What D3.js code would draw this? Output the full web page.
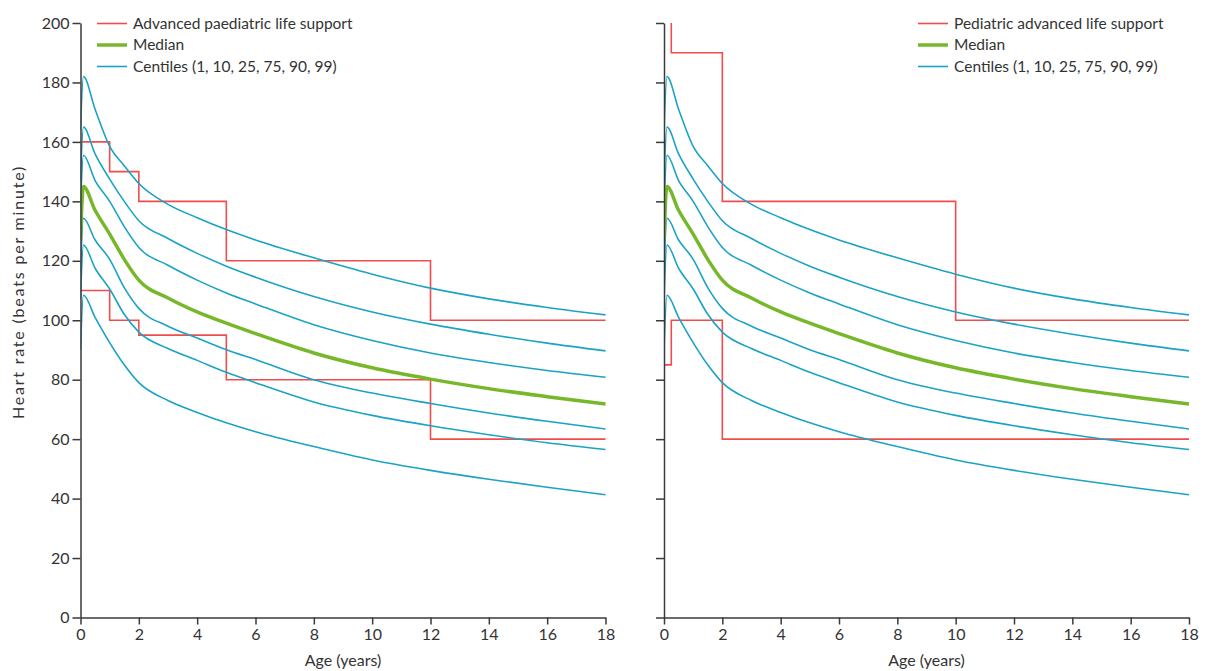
<!DOCTYPE html>
<html>
<head>
<meta charset="utf-8">
<script src="https://cdn.jsdelivr.net/npm/d3@7"></script>
<style>
  body { margin: 0; background: #fff; }
  svg text { font-family: Lato, "Open Sans", sans-serif; fill: #333; }
  .axis path, .axis line { stroke: #3a3a3a; stroke-width: 1.5; }
  .axis text { font-size: 16px; }
</style>
</head>
<body>
<div id="chart"></div>
<script>
// data
const ages = [0, 0.1, 0.5, 1, 1.5, 2, 3, 4, 5, 6, 8, 10, 12, 14, 16, 18];
const c99 = [164, 182, 171, 158.5, 152, 146, 139, 134.5, 130.5, 127, 121, 115.5, 110.8, 107.2, 104.3, 101.8];
const c90 = [147, 165, 156, 147.5, 140, 133.5, 127.5, 122.5, 118.2, 114.5, 108, 102.8, 98.7, 95.3, 92.3, 89.7];
const c75 = [138, 155.5, 147, 140, 131.5, 124.5, 118.5, 113.5, 109.2, 105.5, 98.5, 93.2, 89, 85.8, 83.1, 80.8];
const median = [127, 145, 137, 129, 120.5, 113.5, 107.5, 102.8, 99, 95.5, 89, 84, 80.2, 77, 74.3, 71.8];
const c25 = [116, 134.3, 127, 120.5, 111, 104, 98, 94, 90.1, 86.8, 80, 75.5, 72, 68.8, 66, 63.4];
const c10 = [107, 125.3, 117.5, 110.5, 102, 96, 90.5, 86.5, 82.5, 79, 72.5, 68, 64.5, 61.5, 58.8, 56.5];
const c1 = [90, 108.4, 101, 92.5, 85, 79, 73, 69, 65.5, 62.5, 57.5, 53, 49.5, 46.5, 43.8, 41.3];

// APLS reference ranges (step changes at these ages)
const aplsAges = [0, 1, 2, 5, 12, 18];
const aplsUpper = [160, 150, 140, 120, 100, 100];
const aplsLower = [110, 100, 95, 80, 60, 60];

// PALS reference ranges
const palsUpperAges = [0, 0.25, 2, 10, 18];
const palsUpper = [205, 190, 140, 100, 100];
const palsLowerAges = [0, 0.25, 2, 18];
const palsLower = [85, 100, 60, 60];

const xTicks = [0, 2, 4, 6, 8, 10, 12, 14, 16, 18];
const yTicks = [0, 20, 40, 60, 80, 100, 120, 140, 160, 180, 200];

const red = '#f04c4c', green = '#76b82a', blue = '#1ba3c6';

const width = 1207, height = 671;
const plotTop = 23, plotBottom = 617.5;
const pw = 525;

const svg = d3.select("#chart").append("svg")
    .attr("width", width)
    .attr("height", height);

const y = d3.scaleLinear()
    .domain([0, 200])
    .range([plotBottom, plotTop]);

const centiles = [c1, c10, c25, c75, c90, c99];

function zip(xs, ys) {
    return xs.map((a, i) => [a, ys[i]]);
}

function drawPanel(left, showLabels, legendX, refLabel, upper, lower, id) {
    const x = d3.scaleLinear()
        .domain([0, 18])
        .range([left, left + pw]);

    svg.append("clipPath")
        .attr("id", id)
        .append("rect")
        .attr("x", left).attr("y", plotTop)
        .attr("width", pw + 2).attr("height", plotBottom - plotTop);

    const g = svg.append("g").attr("clip-path", "url(#" + id + ")");

    const curve = d3.line()
        .x(d => x(d[0]))
        .y(d => y(d[1]))
        .curve(d3.curveMonotoneX);

    const step = d3.line()
        .x(d => x(d[0]))
        .y(d => y(d[1]))
        .curve(d3.curveStepAfter);

    // reference ranges
    [upper, lower].forEach(function(s) {
        g.append("path")
            .attr("d", step(s))
            .attr("fill", "none")
            .attr("stroke", red)
            .attr("stroke-width", 1.6);
    });

    centiles.forEach(function(c) {
        g.append("path")
            .attr("d", curve(zip(ages, c)))
            .attr("fill", "none")
            .attr("stroke", blue)
            .attr("stroke-width", 1.6);
    });

    g.append("path")
        .attr("d", curve(zip(ages, median)))
        .attr("fill", "none")
        .attr("stroke", green)
        .attr("stroke-width", 3.5);

    // axes
    const yAxis = d3.axisLeft(y)
        .tickValues(yTicks)
        .tickSize(8)
        .tickSizeOuter(0)
        .tickPadding(3)
        .tickFormat(showLabels ? d3.format("d") : "");

    svg.append("g")
        .attr("class", "axis")
        .attr("transform", "translate(" + left + ",0)")
        .call(yAxis);

    const xAxis = d3.axisBottom(x)
        .tickValues(xTicks)
        .tickSize(7)
        .tickSizeOuter(0)
        .tickPadding(4);

    svg.append("g")
        .attr("class", "axis")
        .attr("transform", "translate(0," + plotBottom + ")")
        .call(xAxis);

    svg.append("text")
        .attr("x", left + pw / 2)
        .attr("y", 666)
        .attr("text-anchor", "middle")
        .style("font-size", "16px")
        .text("Age (years)");

    // legend
    const items = [
        {label: refLabel, color: red, w: 1.6},
        {label: "Median", color: green, w: 3.5},
        {label: "Centiles (1, 10, 25, 75, 90, 99)", color: blue, w: 1.6}
    ];
    const lg = svg.append("g")
        .attr("transform", "translate(" + legendX + ",0)");
    items.forEach(function(d, i) {
        const ly = 23.5 + i * 21.5;
        lg.append("line")
            .attr("x1", 0).attr("x2", 30)
            .attr("y1", ly).attr("y2", ly)
            .attr("stroke", d.color)
            .attr("stroke-width", d.w);
        lg.append("text")
            .attr("x", 36)
            .attr("y", ly)
            .attr("dy", "0.35em")
            .style("font-size", "15.5px")
            .text(d.label);
    });
}

drawPanel(80.5, true, 97, "Advanced paediatric life support",
    zip(aplsAges, aplsUpper), zip(aplsAges, aplsLower), "clipL");
drawPanel(664, false, 918, "Pediatric advanced life support",
    zip(palsUpperAges, palsUpper), zip(palsLowerAges, palsLower), "clipR");

svg.append("text")
    .attr("transform", "translate(24," + 292 + ") rotate(-90)")
    .attr("text-anchor", "middle")
    .style("font-size", "16px")
    .style("letter-spacing", "1.8px")
    .text("Heart rate (beats per minute)");
</script>
</body>
</html>
